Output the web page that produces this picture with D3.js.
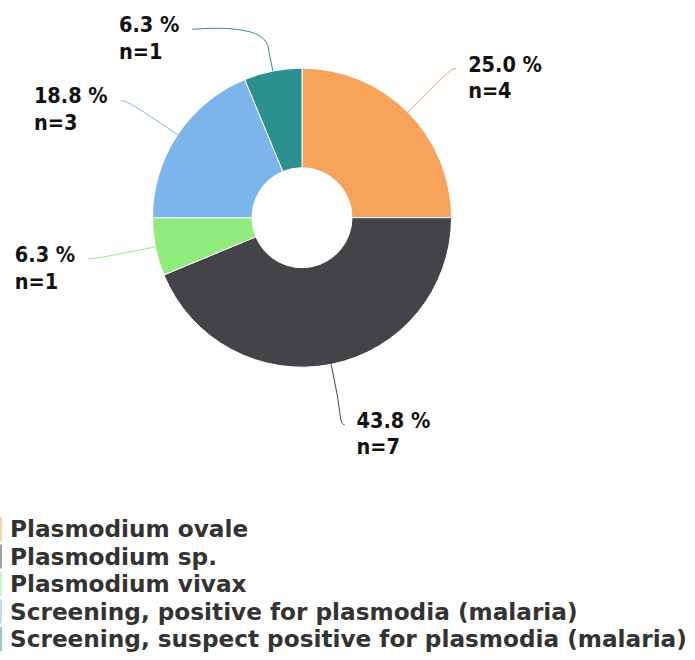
<!DOCTYPE html>
<html>
<head>
<meta charset="utf-8">
<script src="https://cdn.jsdelivr.net/npm/d3@7"></script>
<style>
  body { margin: 0; background: #fff; }
  svg { display: block; }
  .lbl { font-family: "DejaVu Sans Condensed", "DejaVu Sans", sans-serif; font-weight: bold; fill: #111; }
  .leg { font-family: "DejaVu Sans", sans-serif; font-weight: bold; fill: #333; }
</style>
</head>
<body>
<div id="chart"></div>
<script>
var categories = ["Plasmodium ovale", "Plasmodium sp.", "Plasmodium vivax",
  "Screening, positive for plasmodia (malaria)",
  "Screening, suspect positive for plasmodia (malaria)"];
var counts = [4, 7, 1, 3, 1];
var colors = ["#f7a35c", "#434348", "#90ed7d", "#7cb5ec", "#2b908f"];

var w = 695, h = 660;
var cx = 302, cy = 217.7, r = 149.5, r0 = 50;

var svg = d3.select("#chart").append("svg").attr("width", w).attr("height", h);

var total = d3.sum(counts);
var data = counts.map(function(c, i) { return { name: categories[i], n: c, color: colors[i] }; });

var pie = d3.pie().sort(null).value(function(d) { return d.n; });
var arcs = pie(data);
var arc = d3.arc().innerRadius(r0).outerRadius(r);

var g = svg.append("g").attr("transform", "translate(" + cx + "," + cy + ")");

g.selectAll("path.slice")
  .data(arcs)
  .enter().append("path")
  .attr("class", "slice")
  .attr("d", arc)
  .attr("fill", function(d) { return d.data.color; })
  .attr("stroke", "#fff")
  .attr("stroke-width", 1);

// label anchors, roughly the way highcharts puts them
var labRx = 218, labRy = 211, topY = 29.3 - cy;
arcs.forEach(function(d) {
  var a = (d.startAngle + d.endAngle) / 2;
  var s = Math.sin(a), c = Math.cos(a);
  var y = -labRy * c;
  var x = labRx * s;
  if (y < topY) { y = topY; x = (s < 0 ? -1 : 1) * Math.sqrt(labRx * labRx - y * y); }
  d.touch = [r * s, -r * c];
  var bd = r + 25;
  d.brk = [bd * s, -bd * c];
  d.lab = [x, y];
  d.right = s >= 0;
});

g.selectAll("path.conn")
  .data(arcs)
  .enter().append("path")
  .attr("class", "conn")
  .attr("fill", "none")
  .attr("stroke", function(d) { return d.data.color; })
  .attr("stroke-width", 1)
  .attr("d", function(d) {
    var L = d.lab, B = d.brk, T = d.touch;
    var p = d3.path();
    p.moveTo(L[0], L[1]);
    p.bezierCurveTo(L[0] + (d.right ? -5 : 5), L[1], 2 * B[0] - T[0], 2 * B[1] - T[1], B[0], B[1]);
    p.lineTo(T[0], T[1]);
    return p.toString();
  });

var lab = g.selectAll("text.lbl")
  .data(arcs)
  .enter().append("text")
  .attr("class", "lbl")
  .style("font-size", "21.5px");

lab.append("tspan")
  .attr("x", 0)
  .attr("y", function(d) { return d.lab[1] + 3; })
  .text(function(d) { return (d.data.n / total * 100).toFixed(1) + " %"; });
lab.append("tspan")
  .attr("x", 0)
  .attr("y", function(d) { return d.lab[1] + 29.7; })
  .text(function(d) { return "n=" + d.data.n; });

lab.each(function(d) {
  var bw = this.getBBox().width;
  var x0 = d.right ? d.lab[0] + 12 : d.lab[0] - 13 - bw;
  d3.select(this).selectAll("tspan").attr("x", x0);
});

// legend
var legY0 = 537, legStep = 27.5;
var leg = svg.append("g");
leg.selectAll("rect")
  .data(data)
  .enter().append("rect")
  .attr("x", -10).attr("width", 12)
  .attr("y", function(d, i) { return legY0 + i * legStep - 20; })
  .attr("height", 24)
  .attr("fill", function(d) { return d.color; })
  .attr("opacity", 0.5);
leg.selectAll("text")
  .data(data)
  .enter().append("text")
  .attr("class", "leg")
  .attr("x", 10)
  .attr("y", function(d, i) { return legY0 + i * legStep; })
  .style("font-size", "23.2px")
  .text(function(d) { return d.name; });
</script>
</body>
</html>
